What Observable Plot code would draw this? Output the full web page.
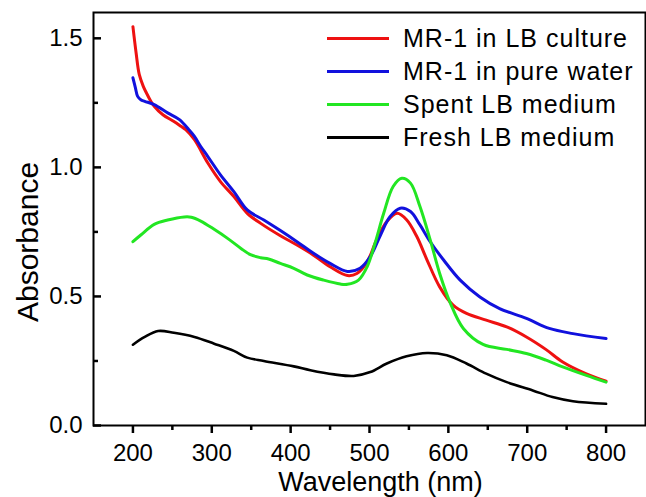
<!DOCTYPE html>
<html>
<head>
<meta charset="utf-8">
<script src="https://cdn.jsdelivr.net/npm/d3@7"></script>
<script src="https://cdn.jsdelivr.net/npm/@observablehq/plot@0.6"></script>
<style>
  html, body { margin: 0; padding: 0; background: #fff; }
  #wrap { position: relative; width: 646px; height: 497px; font-family: "Liberation Sans", Arial, sans-serif; }
  #legend { position: absolute; left: 0; top: 0; }
  .row { position: absolute; left: 327px; height: 33px; display: flex; align-items: center; white-space: nowrap; }
  .sw { display: inline-block; width: 62px; height: 3px; }
  .lab { margin-left: 14px; font-size: 25px; letter-spacing: 1px; color: #000; }
</style>
</head>
<body>
<div id="wrap"><div id="chart"></div><div id="legend"></div></div>
<script>
// ---- data ----
const seriesNames = ["MR-1 in LB culture", "MR-1 in pure water", "Spent LB medium", "Fresh LB medium"];
const seriesColors = ["#ee1111", "#1111dd", "#22e622", "#000000"];

const redWl  = [200,204,208,213,217,222,227,238,252,261,267,278,295,311,328,345,362,387,408,429,450,472,484,497,509,522,535,547,560,573,589,606,623,648,674,699,724,745,775,800];
const redAbs = [1.545,1.444,1.36,1.315,1.289,1.26,1.237,1.204,1.178,1.159,1.146,1.107,1.017,0.945,0.887,0.822,0.783,0.735,0.699,0.66,0.615,0.581,0.589,0.634,0.719,0.79,0.822,0.797,0.732,0.641,0.537,0.466,0.434,0.408,0.382,0.343,0.294,0.246,0.2,0.172];

const blueWl  = [200,203,206,210,215,227,244,259,271,278,286,295,311,328,345,366,387,408,429,450,472,488,501,514,526,539,552,564,577,594,615,640,665,699,728,758,800];
const blueAbs = [1.347,1.31,1.275,1.262,1.256,1.243,1.211,1.185,1.146,1.12,1.081,1.042,0.971,0.906,0.835,0.796,0.755,0.712,0.667,0.628,0.597,0.609,0.654,0.738,0.809,0.842,0.829,0.777,0.712,0.641,0.563,0.498,0.453,0.415,0.376,0.356,0.337];

const greenWl  = [200,210,227,244,265,274,286,303,320,337,349,362,372,387,404,421,442,463,472,486,497,507,518,530,541,552,564,577,589,602,619,644,674,699,724,745,775,800];
const greenAbs = [0.712,0.738,0.779,0.796,0.808,0.807,0.792,0.76,0.725,0.686,0.662,0.65,0.645,0.628,0.609,0.583,0.563,0.548,0.547,0.563,0.615,0.706,0.822,0.926,0.958,0.939,0.848,0.719,0.589,0.478,0.376,0.314,0.295,0.279,0.253,0.227,0.194,0.168];

const blackWl  = [200,215,232,252,278,303,328,345,366,404,425,455,480,501,522,547,573,598,623,648,674,707,732,758,800];
const blackAbs = [0.313,0.343,0.366,0.359,0.343,0.317,0.289,0.263,0.25,0.229,0.214,0.198,0.192,0.207,0.24,0.268,0.281,0.272,0.24,0.201,0.168,0.136,0.11,0.094,0.084];

const xMajor = [200,300,400,500,600,700,800];
const xMinor = [250,350,450,550,650,750];
const yMajor = [0.0,0.5,1.0,1.5];
const yMinor = [0.25,0.75,1.25];
const xTitle = "Wavelength (nm)";
const yTitle = "Absorbance";
const xDomain = [150, 850];
const yDomain = [0, 1.6];

// ---- build table ----
const wls = [redWl, blueWl, greenWl, blackWl];
const abss = [redAbs, blueAbs, greenAbs, blackAbs];
const rows = [];
seriesNames.forEach((name, i) => {
  wls[i].forEach((w, j) => rows.push({series: name, wl: w, abs: abss[i][j]}));
});

const font = "'Liberation Sans', Arial, sans-serif";

const chart = Plot.plot({
  width: 646,
  height: 497,
  marginLeft: 93,
  marginTop: 12,
  marginRight: 1,
  marginBottom: 72,
  style: {fontFamily: font, fontSize: "24px", color: "#000", background: "#fff", overflow: "visible"},
  x: {domain: xDomain, label: null},
  y: {domain: yDomain, label: null},
  color: {domain: seriesNames, range: seriesColors},
  marks: [
    Plot.line(rows.filter(d => d.series !== seriesNames[3]), {
      x: "wl", y: "abs", z: "series", stroke: "series", strokeWidth: 3, curve: "catmull-rom"
    }),
    Plot.line(rows.filter(d => d.series === seriesNames[3]), {
      x: "wl", y: "abs", stroke: "series", strokeWidth: 2.6, curve: "catmull-rom"
    }),
    Plot.frame({stroke: "#000", strokeWidth: 2}),
    // x ticks (outward, below the frame)
    Plot.ruleX(xMajor, {x: d => d, y1: yDomain[0], y2: yDomain[0], insetBottom: -8, stroke: "#000", strokeWidth: 2.5}),
    Plot.ruleX(xMinor, {x: d => d, y1: yDomain[0], y2: yDomain[0], insetBottom: -5, stroke: "#000", strokeWidth: 2.5}),
    // y ticks (inward, right of the left frame edge)
    Plot.ruleY(yMajor, {y: d => d, x1: xDomain[0], x2: xDomain[0], insetRight: -8, stroke: "#000", strokeWidth: 2.5}),
    Plot.ruleY(yMinor, {y: d => d, x1: xDomain[0], x2: xDomain[0], insetRight: -5, stroke: "#000", strokeWidth: 2.5}),
    Plot.axisX(xMajor, {tickSize: 0, tickPadding: 18, fontSize: 24, letterSpacing: "1px", label: null, tickFormat: d => String(d)}),
    Plot.axisY(yMajor, {tickSize: 0, tickPadding: 11, fontSize: 24, letterSpacing: "1px", label: null, tickFormat: d3.format(".1f")}),
    Plot.text([xTitle], {frameAnchor: "bottom", dx: 11, dy: 65, lineAnchor: "bottom", textAnchor: "middle", fontSize: 27, text: d => d}),
    Plot.text([yTitle], {frameAnchor: "left", rotate: -90, dx: -56, dy: 23, lineAnchor: "bottom", textAnchor: "middle", fontSize: 30, letterSpacing: "0.7px", text: d => d})
  ]
});
document.getElementById("chart").appendChild(chart);

// ---- legend ----
const leg = document.getElementById("legend");
seriesNames.forEach((name, i) => {
  const r = document.createElement("div");
  r.className = "row";
  r.style.top = (38 - 16.5 + 33 * i) + "px";
  const sw = document.createElement("span");
  sw.className = "sw";
  sw.style.background = seriesColors[i];
  const t = document.createElement("span");
  t.className = "lab";
  t.textContent = name;
  r.appendChild(sw); r.appendChild(t);
  leg.appendChild(r);
});
</script>
</body>
</html>
